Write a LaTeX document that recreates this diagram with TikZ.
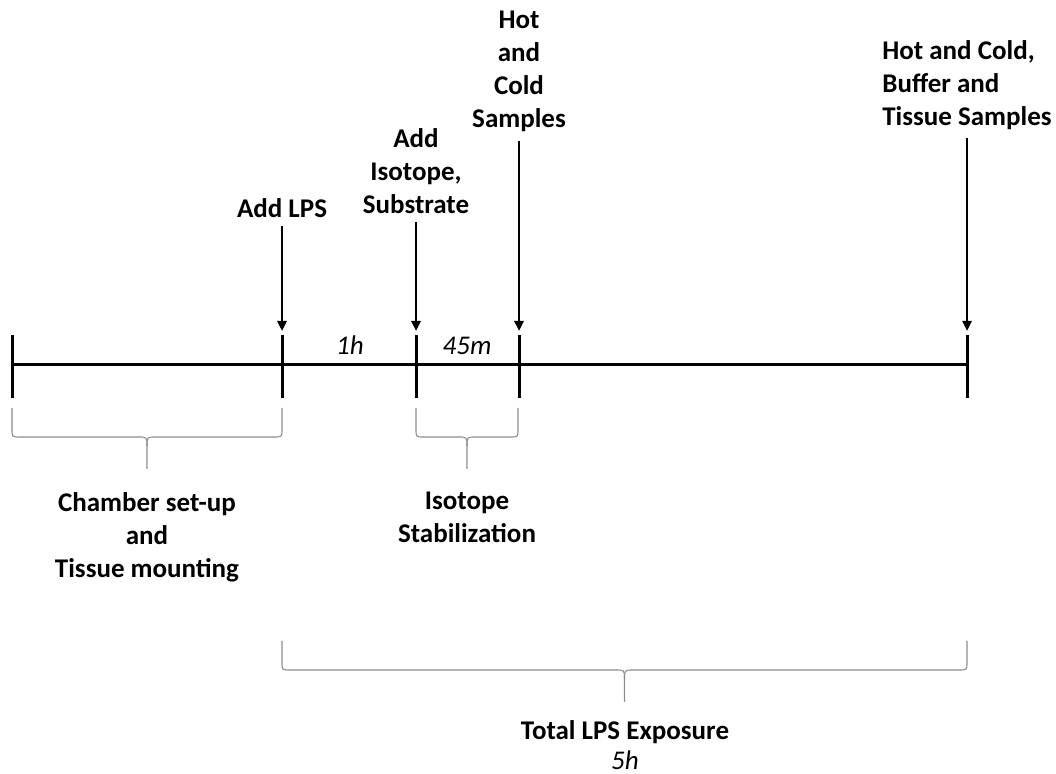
\documentclass[tikz,border=0pt]{standalone}
\usepackage{fontspec}
\setmainfont{Carlito}
\usetikzlibrary{arrows.meta}

\begin{document}
\begin{tikzpicture}[
    x=0.5pt, y=-0.5pt,
    lbl/.style={font=\fontsize{13.5}{16.5}\selectfont\bfseries, align=center, inner sep=4pt},
    dur/.style={font=\fontsize{13.5}{16.5}\selectfont\itshape, inner sep=0pt, anchor=base},
    axis/.style={line width=1.5pt},
    tick/.style={line width=1.5pt},
    arr/.style={line width=1.2pt, -{Triangle[length=5pt, width=4.5pt]}},
    brace/.style={draw=black!45, line width=0.55pt}
]

\useasboundingbox (0,0) rectangle (1056,774);

% ================= time line =================

\coordinate (t0) at (12,365);
\coordinate (t1) at (282,365);
\coordinate (t2) at (416,365);
\coordinate (t3) at (519,365);
\coordinate (t4) at (967,365);

\draw[axis] (t0)--(t4);

\draw[tick] ([yshift=15pt]t0)--([yshift=-16.5pt]t0);
\draw[tick] ([yshift=15pt]t1)--([yshift=-16.5pt]t1);
\draw[tick] ([yshift=15pt]t2)--([yshift=-16.5pt]t2);
\draw[tick] ([yshift=15pt]t3)--([yshift=-16.5pt]t3);
\draw[tick] ([yshift=15pt]t4)--([yshift=-16.5pt]t4);

\node[dur] (d1) at (350,355) {1h};
\node[dur] (d2) at (467,355) {45m};

% ================= events =================

\node[lbl, anchor=north] (lps) at (282,190) {Add LPS};
\node[lbl, anchor=north] (iso) at (416,120) {Add\\Isotope,\\Substrate};
\node[lbl, anchor=north] (hc)  at (519,3)   {Hot\\and\\Cold\\Samples};
\node[lbl, anchor=north, align=left] (hcbt) at (967,32) {Hot and Cold,\\Buffer and\\Tissue Samples};

\coordinate (a1) at (282,331);
\coordinate (a2) at (416,331);
\coordinate (a3) at (519,331);
\coordinate (a4) at (967,331);

\draw[arr] (lps)--(a1);
\draw[arr] (iso)--(a2);
\draw[arr] (hc)--(a3);
\draw[arr] (hcbt)--(a4);

% ================= braces =================

\foreach \xa/\xb/\yt in {12/282/408, 416/518/408, 282/967/641}{
    \pgfmathsetmacro{\xm}{(\xa+\xb)/2}
    \draw[brace] (\xa,\yt) -- (\xa,\yt+21)
        .. controls (\xa,\yt+29) .. (\xa+8,\yt+29) -- (\xm-9,\yt+29)
        .. controls (\xm,\yt+29) .. (\xm,\yt+38) -- (\xm,\yt+61);
    \draw[brace] (\xb,\yt) -- (\xb,\yt+21)
        .. controls (\xb,\yt+29) .. (\xb-8,\yt+29) -- (\xm+9,\yt+29)
        .. controls (\xm,\yt+29) .. (\xm,\yt+38);
}

\node[lbl, anchor=north] (setup) at (147,484) {Chamber set-up\\and\\Tissue mounting};
\node[lbl, anchor=north] (stab)  at (467,484) {Isotope\\Stabilization};
\node[lbl, anchor=north, inner sep=1pt] (total) at (625,718) {Total LPS Exposure\\[-1.5pt]{\mdseries\itshape 5h}};

\end{tikzpicture}
\end{document}
